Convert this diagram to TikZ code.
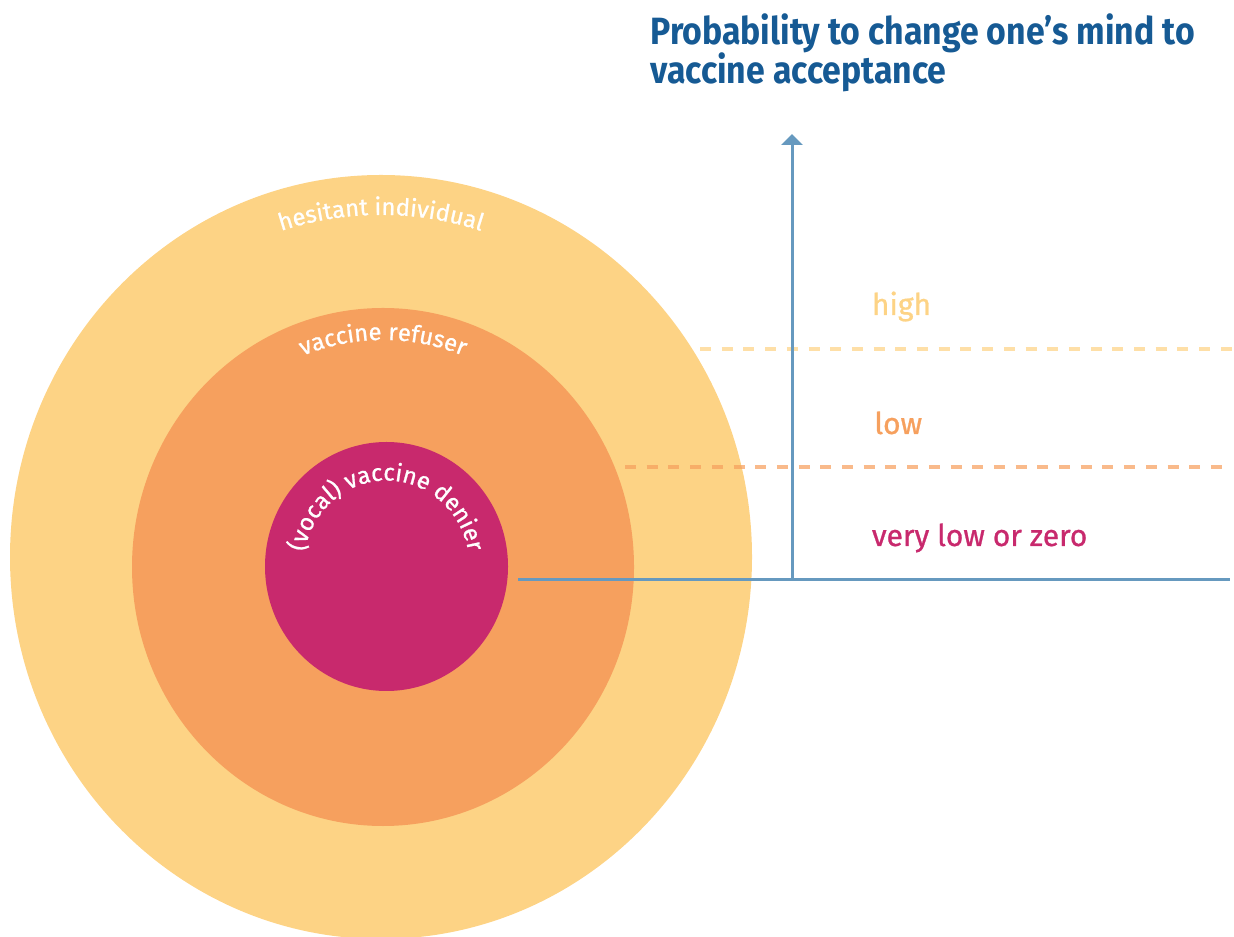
\documentclass[tikz,border=0pt]{standalone}
\usepackage{fontspec}
\setmainfont{Fira Sans}
\newfontfamily\titlefont[FakeStretch=0.89]{Fira Sans}
\newfontfamily\labelfam[FakeBold=0.9]{Fira Sans}
\usetikzlibrary{decorations.text,arrows.meta}
\definecolor{outerC}{HTML}{FDD385}
\definecolor{midC}{HTML}{F6A05E}
\definecolor{innerC}{HTML}{C8296D}
\definecolor{axisC}{HTML}{6699BF}
\definecolor{titleC}{HTML}{165A94}
\newcommand{\curvefont}{\labelfam\fontsize{11.9}{13}\selectfont}
\begin{document}
\begin{tikzpicture}[x=0.5pt,y=0.5pt,
  curvelabel/.style={decorate, decoration={text along path, text align=center, text color=white}},
  levellabel/.style={anchor=base west, inner sep=0pt, font=\labelfam\fontsize{15}{18}\selectfont},
  titletext/.style={anchor=base west, inner sep=0pt, text=titleC, font=\titlefont\bfseries\fontsize{19}{23}\selectfont},
  axisline/.style={draw=axisC, line width=1.5pt},
  levelline/.style={line width=1.6pt, dash pattern=on 5.5pt off 5.35pt, draw opacity=0.72}]
\useasboundingbox (0,0) rectangle (1234,936);
\coordinate (cO) at (381,379);
\coordinate (cM) at (383,369);
\coordinate (cI) at (386.5,369.5);
\begin{scope}
\clip (0,0) rectangle (1234,936);
\fill[outerC] (cO) ellipse [x radius=371, y radius=382];
\fill[midC] (cM) ellipse [x radius=251, y radius=259];
\fill[innerC] (cI) ellipse [x radius=121.5, y radius=124.5];
\end{scope}
\path[curvelabel, decoration={text={|\curvefont|hesitant individual}}]
  (cO) ++(200:331 and 342) arc[start angle=200, end angle=-20, x radius=331, y radius=342];
\path[curvelabel, decoration={text={|\curvefont|vaccine refuser}}]
  (cM) ++(200:219 and 227) arc[start angle=200, end angle=-20, x radius=219, y radius=227];
\path[curvelabel, decoration={text={|\curvefont|(vocal) vaccine denier}}]
  (cI) ++(220:83 and 86) arc[start angle=220, end angle=-40, x radius=83, y radius=86];
% level separators
\coordinate (hiS) at (700,587);
\coordinate (hiE) at (1234,587);
\coordinate (loS) at (625,469);
\coordinate (loE) at (1230,469);
\draw[levelline, draw=outerC] (hiS) -- (hiE);
\draw[levelline, draw=midC] (loS) -- (loE);
% axes
\coordinate (xS) at (518,356);
\coordinate (orig) at (792,356);
\coordinate (xE) at (1230,356);
\coordinate (yE) at (792,802);
\draw[axisline] (xS) -- (xE);
\draw[axisline, -{Triangle[width=10.5pt,length=5.5pt]}] (orig) -- (yE);
% labels
\node[levellabel, text=outerC] (high) at (871.5,621) {high};
\node[levellabel, text=midC] (low) at (874,502) {low};
\node[levellabel, text=innerC] (vlow) at (871.5,390) {very low or zero};
\node[titletext] (t1) at (650,891) {Probability to change one’s mind to};
\node[titletext] (t2) at (650,852) {vaccine acceptance};
\end{tikzpicture}
\end{document}
